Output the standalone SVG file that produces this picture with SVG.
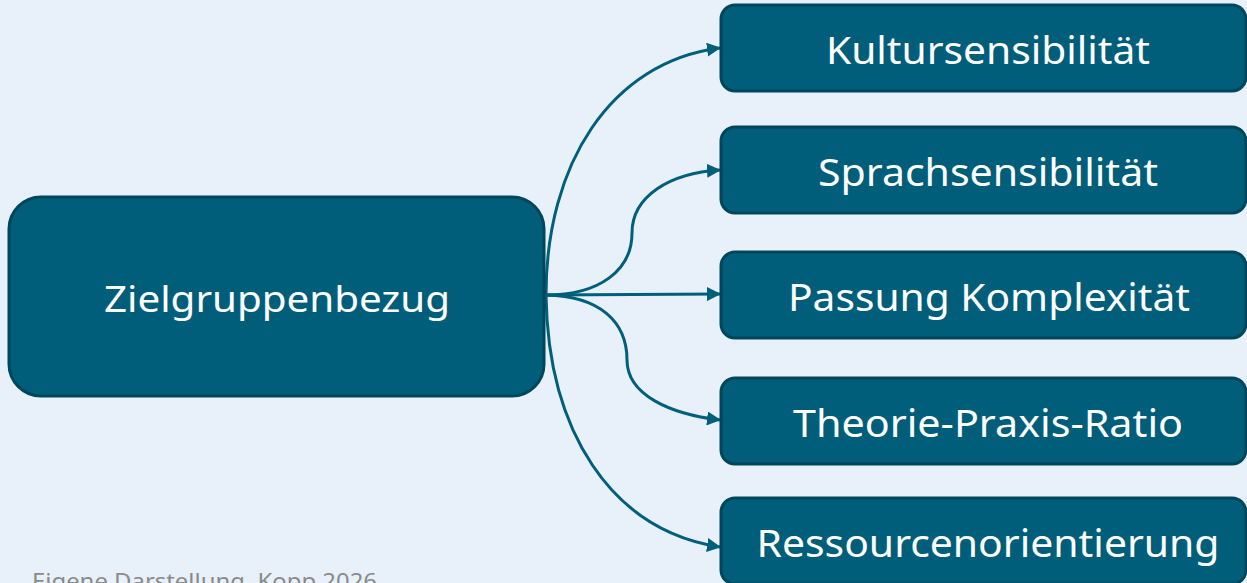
<svg xmlns="http://www.w3.org/2000/svg" width="1247" height="583" viewBox="0 0 1247 583">
<style>
.box{fill:#005E7A;stroke:#00475C;stroke-width:3}
.lbl{fill:#FFFFFF;font-family:"Noto Sans","Open Sans",sans-serif;text-anchor:middle;dominant-baseline:central}
.con{fill:none;stroke:#005F7B;stroke-width:3}
.foot{fill:#8A8A8A;font-family:"Noto Sans","Open Sans",sans-serif;font-size:22px}
</style>
<defs>
<marker id="ah" markerWidth="14" markerHeight="14" refX="13" refY="7" orient="auto" markerUnits="userSpaceOnUse">
<path d="M0,0 L14,7 L0,14 Z" fill="#005F7B"/>
</marker>
</defs>
<rect width="1247" height="583" fill="#E8F1F9"/>
<g id="connectors">
<path class="con" marker-end="url(#ah)" d="M546,295 C546,165 610,62 720,48"/>
<path class="con" marker-end="url(#ah)" d="M546,295 C600,295 632,270 632,233 C632,196 670,173 720,170"/>
<path class="con" marker-end="url(#ah)" d="M546,295 L720,294"/>
<path class="con" marker-end="url(#ah)" d="M546,295 C600,296 627,322 627,360 C627,395 670,414 720,420"/>
<path class="con" marker-end="url(#ah)" d="M546,295 C548,430 610,530 720,547"/>
</g>
<g id="node-main">
<rect class="box" x="9" y="197" width="535" height="199" rx="32"/>
<text class="lbl" x="277" y="297" font-size="37" textLength="346" lengthAdjust="spacingAndGlyphs">Zielgruppenbezug</text>
</g>
<g id="node-kultur">
<rect class="box" x="721" y="5" width="525" height="86" rx="14"/>
<text class="lbl" x="988" y="49" font-size="38" textLength="324" lengthAdjust="spacingAndGlyphs">Kultursensibilität</text>
</g>
<g id="node-sprach">
<rect class="box" x="721" y="127" width="525" height="86" rx="14"/>
<text class="lbl" x="988" y="171" font-size="38" textLength="340" lengthAdjust="spacingAndGlyphs">Sprachsensibilität</text>
</g>
<g id="node-passung">
<rect class="box" x="721" y="252" width="525" height="86" rx="14"/>
<text class="lbl" x="989" y="296" font-size="38" textLength="402" lengthAdjust="spacingAndGlyphs">Passung Komplexität</text>
</g>
<g id="node-theorie">
<rect class="box" x="721" y="378" width="525" height="86" rx="14"/>
<text class="lbl" x="988" y="422" font-size="38" textLength="390" lengthAdjust="spacingAndGlyphs">Theorie-Praxis-Ratio</text>
</g>
<g id="node-ressourcen">
<rect class="box" x="721" y="498" width="525" height="86" rx="14"/>
<text class="lbl" x="988" y="542" font-size="38" textLength="463" lengthAdjust="spacingAndGlyphs">Ressourcenorientierung</text>
</g>
<text class="foot" x="32" y="589" textLength="345" lengthAdjust="spacingAndGlyphs">Eigene Darstellung, Kopp 2026</text>
</svg>
